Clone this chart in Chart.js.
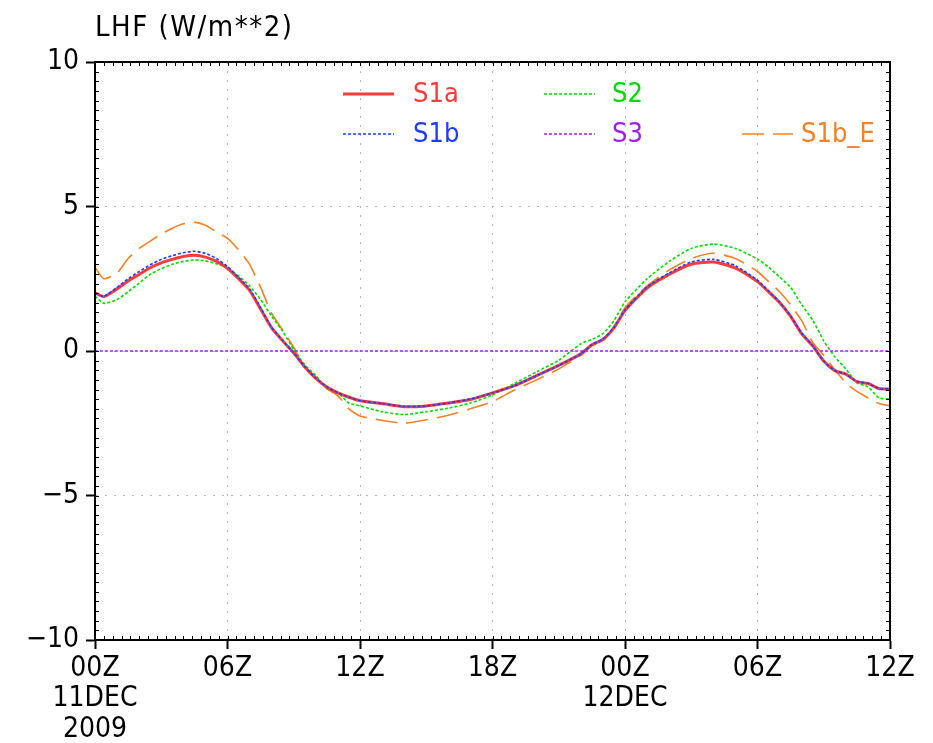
<!DOCTYPE html>
<html>
<head>
<meta charset="utf-8">
<script src="https://cdn.jsdelivr.net/npm/chart.js@4"></script>
<style>
html, body { margin: 0; padding: 0; background: #fff; }
</style>
</head>
<body>
<canvas id="lhf" width="933" height="743"></canvas>
<script>
// hours since 00Z 11DEC2009
const hours = [0, 0.4, 1, 1.5, 2, 2.5, 3, 3.5, 4, 4.5,
  5, 5.5, 6, 6.5, 7, 7.5, 8, 8.5, 9, 9.5,
  10, 10.5, 11, 11.5, 12,
  13, 14, 15, 16, 17, 18, 19, 20, 21, 22,
  22.5, 23, 23.5, 24,
  25, 26, 27, 28, 29, 30,
  30.5, 31, 31.5, 32, 32.5, 33, 33.5, 34, 34.5, 35, 35.5, 36];

const s1a = [2.02, 1.88, 2.15, 2.42, 2.65, 2.88, 3.05, 3.17, 3.27, 3.31,
  3.25, 3.1, 2.86, 2.5, 2.1, 1.45, 0.8, 0.35, -0.07, -0.55,
  -0.95, -1.25, -1.45, -1.6, -1.72,
  -1.82, -1.93, -1.9, -1.8, -1.68, -1.45, -1.2, -0.85, -0.5, -0.1,
  0.22, 0.4, 0.8, 1.4,
  2.18, 2.65, 3.0, 3.08, 2.87, 2.4,
  2.05, 1.68, 1.2, 0.6, 0.18, -0.35, -0.68, -0.8, -1.06, -1.12, -1.3, -1.32];

const s1b = [1.98, 1.9, 2.2, 2.5, 2.75, 2.98, 3.17, 3.3, 3.4, 3.45,
  3.38, 3.2, 2.92, 2.55, 2.15, 1.5, 0.82, 0.36, -0.06, -0.54,
  -0.94, -1.24, -1.44, -1.6, -1.72,
  -1.82, -1.92, -1.9, -1.8, -1.66, -1.45, -1.2, -0.85, -0.5, -0.1,
  0.22, 0.42, 0.82, 1.42,
  2.22, 2.7, 3.08, 3.17, 2.95, 2.45,
  2.08, 1.7, 1.22, 0.62, 0.18, -0.35, -0.68, -0.8, -1.05, -1.12, -1.3, -1.32];

const s2 = [1.9, 1.65, 1.78, 2.05, 2.35, 2.65, 2.85, 3.0, 3.1, 3.15,
  3.12, 3.02, 2.87, 2.6, 2.25, 1.78, 1.2, 0.68, 0.05, -0.48,
  -0.85, -1.3, -1.45, -1.8, -1.9,
  -2.1, -2.2, -2.1, -1.98, -1.8, -1.52, -1.12, -0.72, -0.32, 0.25,
  0.4, 0.6, 1.05, 1.7,
  2.5, 3.1, 3.55, 3.7, 3.55, 3.18,
  2.9, 2.56, 2.2, 1.6, 1.07, 0.35, -0.2, -0.62, -1.1, -1.24, -1.62, -1.66];

const s1bE = [2.9, 2.5, 2.7, 3.2, 3.55, 3.8, 4.05, 4.25, 4.4, 4.46,
  4.35, 4.12, 3.9, 3.5, 3.0, 2.2, 1.3, 0.72, 0.12, -0.55,
  -0.9, -1.3, -1.55, -2.0, -2.25,
  -2.4, -2.5, -2.38, -2.22, -2.0, -1.75, -1.35, -1.0, -0.62, -0.15,
  0.18, 0.35, 0.85, 1.5,
  2.25, 2.8, 3.2, 3.38, 3.2, 2.75,
  2.4, 2.05, 1.6, 1.05, 0.3, -0.15, -0.65, -1.1, -1.4, -1.62, -1.82, -1.9];

const s3Hours = [0, 36];
const s3 = [0, 0];

// tick labels along the time axis
const timeTicks = [0, 6, 12, 18, 24, 30, 36];
const timeLabels = [['00Z', '11DEC', '2009'], '06Z', '12Z', '18Z', ['00Z', '12DEC'], '06Z', '12Z'];

const FONT = '"Liberation Sans Narrow", "DejaVu Sans Condensed", "Roboto Condensed", sans-serif';

const RED = 'rgb(250,60,60)';
const BLUE = 'rgb(30,60,255)';
const GREEN = 'rgb(0,215,0)';
const PURPLE = 'rgb(160,32,240)';
const ORANGE = 'rgb(240,130,40)';

function pts(xs, ys) {
  return xs.map((x, i) => ({ x: x, y: ys[i] }));
}

// legend rows drawn inside the plot frame (offsets from the top-left corner)
const legendItems = [
  { label: 'S1a', color: RED, width: 3, dash: [], x: 248, y: 32, gap: 70 },
  { label: 'S1b', color: BLUE, width: 1.6, dash: [3, 2], x: 248, y: 72, gap: 70 },
  { label: 'S2', color: GREEN, width: 1.6, dash: [3, 2], x: 449, y: 32, gap: 68 },
  { label: 'S3', color: PURPLE, width: 1.6, dash: [3, 2], x: 449, y: 72, gap: 68 },
  { label: 'S1b_E', color: ORANGE, width: 1.6, dash: [22, 9], x: 647, y: 72, gap: 59 }
];

const framePlugin = {
  id: 'frame',
  afterDraw(chart) {
    const { ctx, chartArea: a, scales } = chart;
    ctx.save();
    // minor ticks, pointing inward on all four sides
    ctx.strokeStyle = '#000';
    ctx.lineWidth = 1;
    ctx.beginPath();
    for (let h = 0; h <= 36.001; h += 0.4) {
      const px = Math.round(scales.x.getPixelForValue(h)) + 0.5;
      ctx.moveTo(px, a.bottom); ctx.lineTo(px, a.bottom - 4);
      ctx.moveTo(px, a.top); ctx.lineTo(px, a.top + 4);
    }
    for (let v = -10; v <= 10.001; v += 1 / 3) {
      const py = Math.round(scales.y.getPixelForValue(v)) + 0.5;
      ctx.moveTo(a.left, py); ctx.lineTo(a.left + 4, py);
      ctx.moveTo(a.right, py); ctx.lineTo(a.right - 4, py);
    }
    ctx.stroke();
    // outer frame
    ctx.lineWidth = 2;
    ctx.strokeRect(a.left, a.top, a.right - a.left, a.bottom - a.top);

    // title
    ctx.fillStyle = '#000';
    ctx.font = '29px ' + FONT;
    ctx.letterSpacing = '1.5px';
    ctx.textBaseline = 'alphabetic';
    ctx.textAlign = 'left';
    ctx.fillText('LHF (W/m**2)', a.left, 36);
    ctx.letterSpacing = '0px';

    // legend
    ctx.font = '27px ' + FONT;
    ctx.textBaseline = 'middle';
    legendItems.forEach(item => {
      const x0 = a.left + item.x;
      const y0 = a.top + item.y;
      ctx.strokeStyle = item.color;
      ctx.lineWidth = item.width;
      ctx.setLineDash(item.dash);
      ctx.beginPath();
      ctx.moveTo(x0, y0);
      ctx.lineTo(x0 + 51, y0);
      ctx.stroke();
      ctx.setLineDash([]);
      ctx.fillStyle = item.color;
      ctx.fillText(item.label, x0 + item.gap, y0 + 1);
    });
    ctx.restore();
  }
};

const gridOpts = {
  color: '#b4b4b4',
  tickColor: '#000',
  tickBorderDash: [],
  tickLength: 9,
  tickWidth: 2
};

const ctx = document.getElementById('lhf').getContext('2d');

new Chart(ctx, {
  type: 'line',
  data: {
    datasets: [
      { label: 'S3', data: pts(s3Hours, s3), borderColor: PURPLE, borderWidth: 1.6, borderDash: [3, 2] },
      { label: 'S1b', data: pts(hours, s1b), borderColor: BLUE, borderWidth: 1.6, borderDash: [3, 2] },
      { label: 'S1a', data: pts(hours, s1a), borderColor: RED, borderWidth: 3 },
      { label: 'S2', data: pts(hours, s2), borderColor: GREEN, borderWidth: 1.6, borderDash: [3, 2] },
      { label: 'S1b_E', data: pts(hours, s1bE), borderColor: ORANGE, borderWidth: 1.6, borderDash: [22, 9] }
    ]
  },
  options: {
    responsive: false,
    animation: false,
    layout: { padding: { top: 62, right: 43, left: 0, bottom: 0 } },
    elements: {
      point: { radius: 0 },
      line: { tension: 0.2, fill: false }
    },
    plugins: {
      legend: { display: false },
      tooltip: { enabled: false }
    },
    scales: {
      x: {
        type: 'linear',
        min: 0,
        max: 36,
        afterFit: scale => { scale.height = 103; },
        afterBuildTicks: scale => { scale.ticks = timeTicks.map(v => ({ value: v })); },
        ticks: {
          autoSkip: false,
          maxRotation: 0,
          padding: 4,
          color: '#000',
          font: { family: FONT, size: 28, lineHeight: 1.1 },
          callback: value => timeLabels[timeTicks.indexOf(value)]
        },
        grid: gridOpts,
        border: { display: true, color: '#000', width: 2, dash: [2, 7] }
      },
      y: {
        min: -10,
        max: 10,
        afterFit: scale => { scale.width = 95; },
        ticks: {
          stepSize: 5,
          padding: 7,
          color: '#000',
          font: { family: FONT, size: 28 },
          callback: value => (value < 0 ? '\u2212' + Math.abs(value) : String(value))
        },
        grid: gridOpts,
        border: { display: true, color: '#000', width: 2, dash: [2, 7] }
      }
    }
  },
  plugins: [framePlugin]
});
</script>
</body>
</html>
